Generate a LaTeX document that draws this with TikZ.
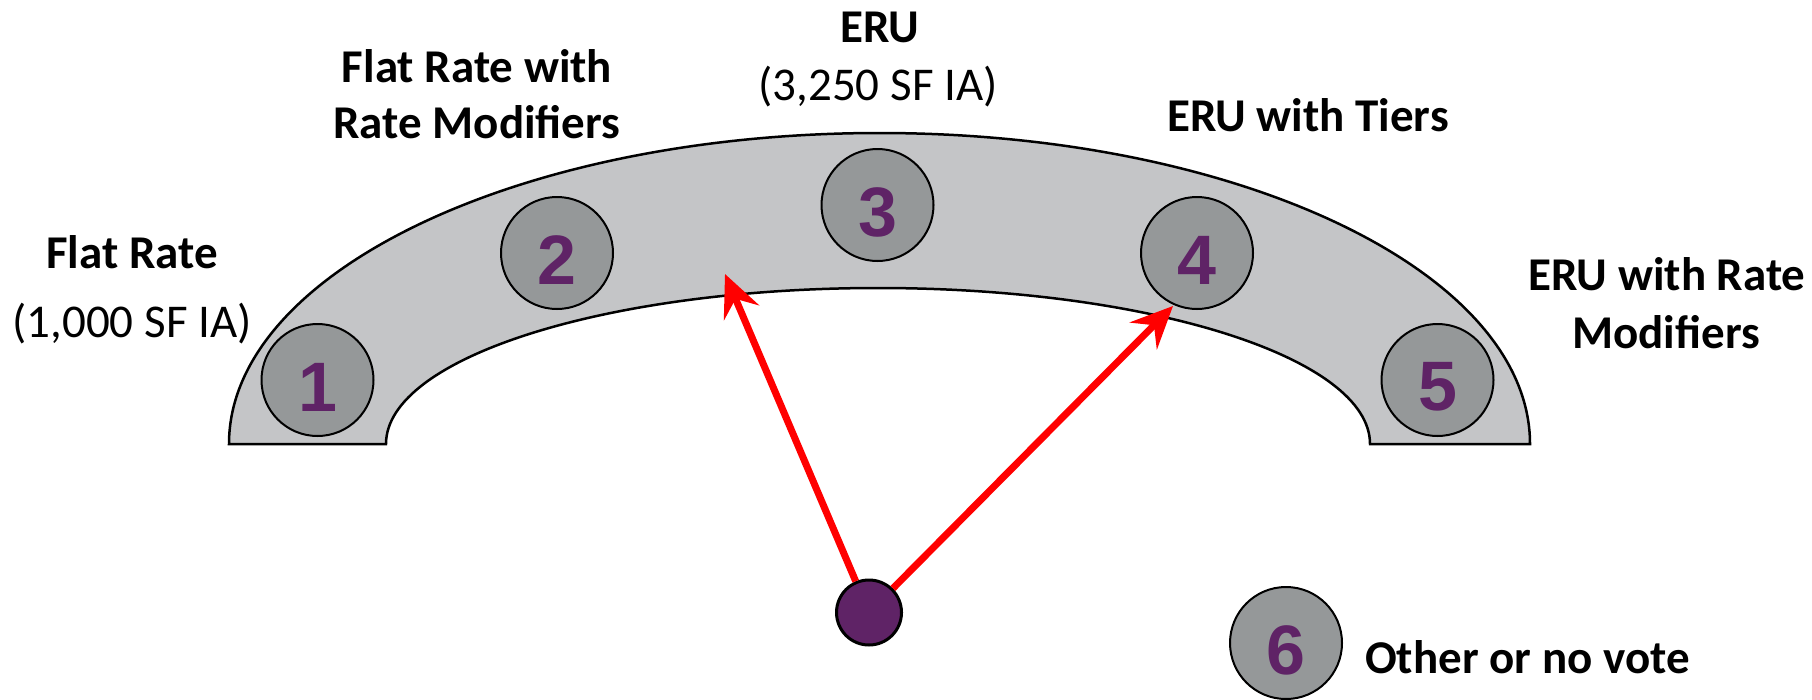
\documentclass[tikz,border=0pt]{standalone}
\usepackage{fontspec}
\setmainfont{Carlito}
\newfontfamily\numfont{Liberation Sans}
\usetikzlibrary{arrows.meta}
\definecolor{archgray}{RGB}{196,197,199}
\definecolor{circgray}{RGB}{149,152,153}
\definecolor{vpurple}{RGB}{95,35,102}
\tikzset{
  circ/.style={circle, draw=black, line width=2pt, fill=circgray, minimum size=112pt, inner sep=0pt},
  num/.style={font=\numfont\bfseries\fontsize{70}{70}\selectfont, text=vpurple, inner sep=0pt},
  lblb/.style={font=\bfseries\fontsize{47}{56}\selectfont, anchor=base, inner sep=0pt},
  lblr/.style={font=\fontsize{47}{56}\selectfont, anchor=base, inner sep=0pt},
  pointer/.style={draw=red, line width=7pt, -{Stealth[length=42pt, width=38pt, inset=15pt]}},
}
\begin{document}
\begin{tikzpicture}[x=1pt, y=-1pt]
\useasboundingbox (0,0) rectangle (1812,699);
% arch
\filldraw[fill=archgray, draw=black, line width=2.5pt]
  (229,444) arc[start angle=180, end angle=360, x radius=650.5, y radius=311]
  -- (1370,444) arc[start angle=0, end angle=-180, x radius=492, y radius=156] -- cycle;
% circles
\node[circ] (c1) at (317.5,380) {};
\node[circ] (c2) at (557,253) {};
\node[circ] (c3) at (877.5,205) {};
\node[circ] (c4) at (1197,253) {};
\node[circ] (c5) at (1437.5,380) {};
\node[circ] (c6) at (1286,643) {};
\node[num] (n1) at ([yshift=-7pt]c1.center) {1};
\node[num] (n2) at ([yshift=-7pt]c2.center) {2};
\node[num] (n3) at ([yshift=-7pt]c3.center) {3};
\node[num] (n4) at ([yshift=-7pt]c4.center) {4};
\node[num] (n5) at ([yshift=-7pt]c5.center) {5};
\node[num] (n6) at ([yshift=-7pt]c6.center) {6};
% pointer
\coordinate (t1) at (725,274);
\coordinate (t2) at (1173,306);
\node[circle, draw=black, line width=3pt, fill=vpurple, minimum size=65pt, inner sep=0pt] (dot) at (869,612.5) {};
\draw[pointer] (dot) -- (t1);
\draw[pointer] (dot) -- (t2);
% labels
\node[lblb] (l1a) at (132,268) {Flat Rate};
\node[lblr] (l1b) at (132,337) {(1,000 SF IA)};
\node[lblb] (l2a) at (477,82) {Flat Rate with};
\node[lblb] (l2b) at (477,138) {Rate Modifiers};
\node[lblb] (l3a) at (880,42) {ERU};
\node[lblr] (l3b) at (878,100) {(3,250 SF IA)};
\node[lblb] (l4a) at (1308,131) {ERU with Tiers};
\node[lblb] (l5a) at (1667,290) {ERU with Rate};
\node[lblb] (l5b) at (1666,348) {Modifiers};
\node[lblb, anchor=base west] (l6) at (1365,673) {Other or no vote};
\end{tikzpicture}
\end{document}
